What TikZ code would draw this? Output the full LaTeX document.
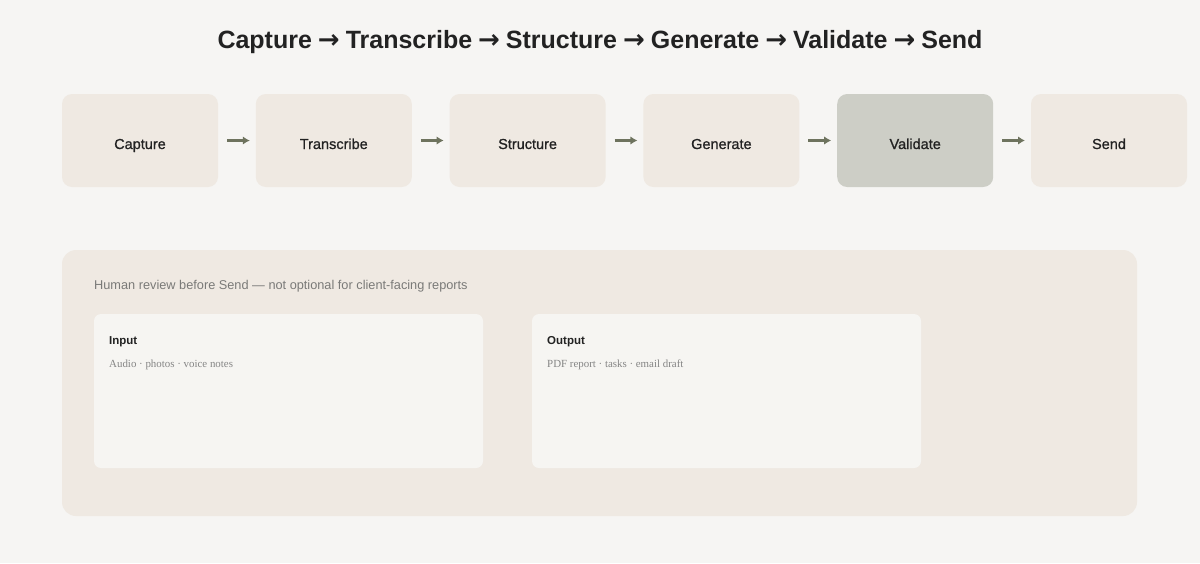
\documentclass[tikz,border=0pt]{standalone}
\usepackage{fontspec}
\setmainfont{Liberation Serif}
\setsansfont{Liberation Sans}
\newfontfamily\arrowfont{DejaVu Sans}
\newfontfamily\medfont[FakeBold=0.9]{Liberation Sans}
\newcommand{\ra}{\hspace{6pt}{\arrowfont\bfseries\fontsize{26}{26}\selectfont →}\hspace{6pt}}
\usetikzlibrary{positioning,arrows.meta}

\definecolor{bg}{HTML}{F6F5F3}
\definecolor{boxc}{HTML}{EFE9E2}
\definecolor{valc}{HTML}{CDCEC6}
\definecolor{arrc}{HTML}{6E735E}
\definecolor{cardc}{HTML}{F6F5F2}
\definecolor{ink}{HTML}{222222}
\definecolor{capc}{HTML}{7A7A78}
\definecolor{subc}{HTML}{858585}

\begin{document}
\begin{tikzpicture}[x=1pt,y=-1pt,
   stage/.style={fill=boxc,rounded corners=10pt,minimum width=156pt,minimum height=93pt,
                 inner sep=0pt,outer sep=0pt,text height=17pt,text depth=0pt,
                 text=ink,font=\medfont\fontsize{14.5}{17}\selectfont},
   flow/.style={draw=arrc,line width=2.4pt,-{Latex[length=7pt,width=8.5pt]},
                shorten <=9pt,shorten >=6pt},
   card/.style={fill=cardc,rounded corners=7pt,minimum width=389pt,minimum height=154pt,inner sep=0pt}]
   \useasboundingbox[fill=bg] (0,0) rectangle (1200,563);
   % title
   \node[anchor=base,text=ink,font=\sffamily\bfseries\fontsize{25}{30}\selectfont] (title) at (600,48)
      {Capture\ra Transcribe\ra Structure\ra Generate\ra Validate\ra Send};
   % pipeline
   \node[stage] (cap) at (140,140.5) {Capture};
   \node[stage,right=37.8pt of cap] (tra) {Transcribe};
   \node[stage,right=37.8pt of tra] (str) {Structure};
   \node[stage,right=37.8pt of str] (gen) {Generate};
   \node[stage,right=37.8pt of gen,fill=valc] (val) {Validate};
   \node[stage,right=37.8pt of val] (snd) {Send};
   \foreach \a/\b in {cap/tra,tra/str,str/gen,gen/val,val/snd}
      \draw[flow] (\a) -- (\b);
   % review panel
   \node[fill=boxc,rounded corners=14pt,minimum width=1075pt,minimum height=266pt] (pan) at (599.5,383) {};
   \node[anchor=base west,inner sep=0pt,text=capc,font=\sffamily\fontsize{12.75}{15}\selectfont] (note) at (94,289.5)
      {Human review before Send — not optional for client-facing reports};
   \node[card] (inp) at (288.5,391) {};
   \node[card] (out) at (726.5,391) {};
   \node[anchor=base west,inner sep=0pt,text=ink,font=\sffamily\bfseries\fontsize{11.5}{14}\selectfont] (inpt) at (109,344) {Input};
   \node[anchor=base west,inner sep=0pt,text=subc,font=\fontsize{10.9}{13}\selectfont] (inps) at (109,367.5) {Audio · photos · voice notes};
   \node[anchor=base west,inner sep=0pt,text=ink,font=\sffamily\bfseries\fontsize{11.5}{14}\selectfont] (outt) at (547,344) {Output};
   \node[anchor=base west,inner sep=0pt,text=subc,font=\fontsize{10.9}{13}\selectfont] (outs) at (547,367.5) {PDF report · tasks · email draft};
\end{tikzpicture}
\end{document}
